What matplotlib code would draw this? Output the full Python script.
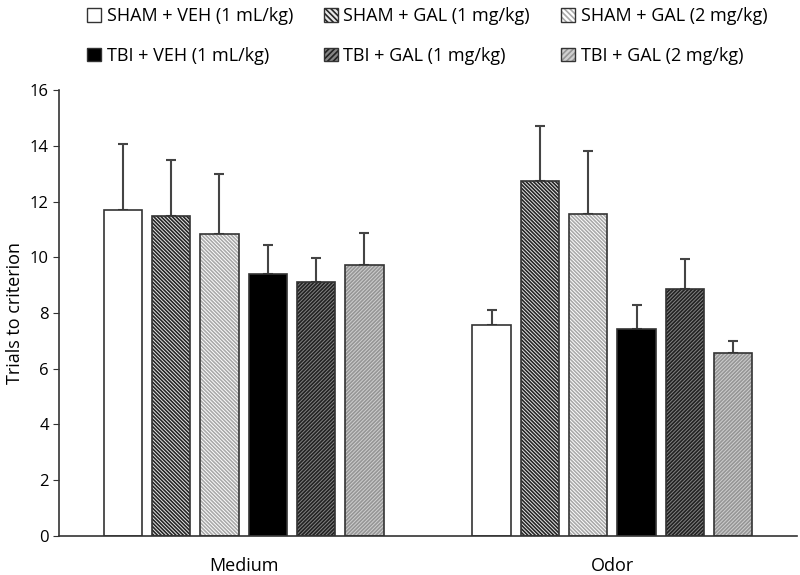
import numpy as np
import matplotlib
matplotlib.use("Agg")
import matplotlib.pyplot as plt
from matplotlib.patches import Patch
from matplotlib.legend_handler import HandlerTuple

plt.rcParams['font.family'] = ['Open Sans', 'DejaVu Sans']
plt.rcParams['hatch.linewidth'] = 1.2

# data
categories = ["Medium", "Odor"]
groups = ["SHAM + VEH (1 mL/kg)", "SHAM + GAL (1 mg/kg)", "SHAM + GAL (2 mg/kg)",
          "TBI + VEH (1 mL/kg)", "TBI + GAL (1 mg/kg)", "TBI + GAL (2 mg/kg)"]
means = [[11.70, 11.50, 10.85, 9.42, 9.10, 9.72],
         [7.57, 12.73, 11.55, 7.42, 8.87, 6.56]]
errs = [[2.38, 2.00, 2.16, 1.02, 0.89, 1.15],
        [0.54, 2.00, 2.26, 0.87, 1.07, 0.43]]

# style per group: face, hatch, hatch colour
styles = [("white", "", "#333333"),
          ("#e8e8e8", "\\" * 9, "#262626"),
          ("white", "\\" * 9, "#aaaaaa"),
          ("black", "", "black"),
          ("#858585", "/" * 9, "#222222"),
          ("#d0d0d0", "/" * 9, "#969696")]

fig = plt.figure(figsize=(8, 5.75), dpi=100)
ax = fig.add_axes([0.074, 0.068, 0.922, 0.775])

x = np.arange(len(categories))
pitch = 0.131
width = 0.104
for i, g in enumerate(groups):
    face, hatch, hc = styles[i]
    pos = x + (i - 2.5) * pitch
    vals = [m[i] for m in means]
    ev = [e[i] for e in errs]
    ax.bar(pos, vals, width, color=face, hatch=hatch, edgecolor=hc, linewidth=0, zorder=2)
    ax.bar(pos, vals, width, fill=False, edgecolor="#333333", linewidth=1.2, zorder=3)
    ax.errorbar(pos, vals, yerr=[np.zeros(len(ev)), ev], fmt="none", ecolor="#444444",
                elinewidth=1.5, capsize=3.5, capthick=1.5, zorder=1)

ax.set_xlim(-0.5, 1.5)
ax.set_ylim(0, 16)
ax.set_yticks(range(0, 17, 2))
ax.set_xticks(x)
ax.set_xticklabels(categories, fontsize=13)
ax.tick_params(axis="x", length=0, pad=15)
ax.tick_params(axis="y", labelsize=12, length=4, direction="out", color="#333333")
ax.set_ylabel("Trials to criterion", fontsize=13, labelpad=4)
for s in ["top", "right"]:
    ax.spines[s].set_visible(False)
for s in ["left", "bottom"]:
    ax.spines[s].set_color("#333333")
    ax.spines[s].set_linewidth(1.2)

handles = []
for i, g in enumerate(groups):
    face, hatch, hc = styles[i]
    fillp = Patch(facecolor=face, hatch=hatch[:6], edgecolor=hc, linewidth=0)
    edgep = Patch(fill=False, edgecolor="#333333", linewidth=1.0)
    handles.append((fillp, edgep))
order = [0, 3, 1, 4, 2, 5]
fig.legend([handles[k] for k in order], [groups[k] for k in order], ncol=3,
           loc="upper left", bbox_to_anchor=(0.088, 1.016), frameon=False, fontsize=13,
           handlelength=0.8, handleheight=0.8, handletextpad=0.3, columnspacing=1.7,
           labelspacing=1.2, handler_map={tuple: HandlerTuple(ndivide=1, pad=0)})

fig.savefig("out.png", dpi=100)
